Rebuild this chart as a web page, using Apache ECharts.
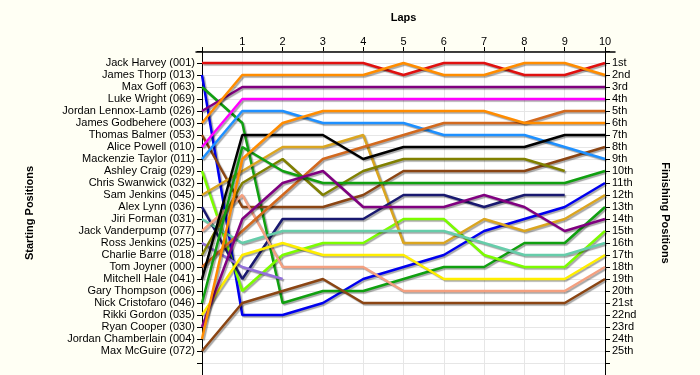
<!DOCTYPE html>
<html><head><meta charset="utf-8">
<script src="https://cdn.jsdelivr.net/npm/echarts@6/dist/echarts.min.js"></script>
<style>html,body{margin:0;padding:0;background:#fffff4;}#c{width:700px;height:375px;}</style>
</head><body><div id="c"></div>
<script>
const lapNumbers = [0,1,2,3,4,5,6,7,8,9,10];
const startingNames = ["Jack Harvey (001)","James Thorp (013)","Max Goff (063)","Luke Wright (069)","Jordan Lennox-Lamb (026)","James Godbehere (003)","Thomas Balmer (053)","Alice Powell (010)","Mackenzie Taylor (011)","Ashley Craig (029)","Chris Swanwick (032)","Sam Jenkins (045)","Alex Lynn (036)","Jiri Forman (031)","Jack Vanderpump (077)","Ross Jenkins (025)","Charlie Barre (018)","Tom Joyner (000)","Mitchell Hale (041)","Gary Thompson (006)","Nick Cristofaro (046)","Rikki Gordon (035)","Ryan Cooper (030)","Jordan Chamberlain (004)","Max McGuire (072)"];
const finishingLabels = ["1st","2nd","3rd","4th","5th","6th","7th","8th","9th","10th","11th","12th","13th","14th","15th","16th","17th","18th","19th","20th","21st","22nd","23rd","24th","25th"];

// positions per lap (lap 0 = grid); null = retired
const harvey      = [1,1,1,1,1,2,1,1,2,2,1];
const thorp       = [2,22,22,21,19,18,17,15,14,13,11];
const goff        = [3,6,21,20,20,19,18,18,16,16,13];
const lennoxLamb  = [5,3,3,3,3,3,3,3,3,3,3];
const godbehere   = [6,2,2,2,2,1,2,2,1,1,2];
const balmer      = [7,13,13,13,12,10,10,10,10,9,8];
const powell      = [8,4,4,4,4,4,4,4,4,4,4];
const taylor      = [9,5,5,6,6,6,7,7,7,8,9];
const craig       = [10,20,17,16,16,14,14,17,18,18,15];
const samJenkins  = [12,10,8,8,7,16,16,14,15,14,12];
const lynn        = [13,19,14,14,14,12,12,13,12,12,null];
const forman      = [14,16,15,15,15,15,15,16,17,17,16];
const vanderpump  = [15,12,18,18,18,20,20,20,20,20,18];
const rossJenkins = [16,18,19,null,null,null,null,null,null,null,null];
const barre       = [17,11,9,12,10,9,9,9,9,10,null];
const joyner      = [18,15,12,9,8,7,6,6,6,5,5];
const hale        = [19,7,7,7,9,8,8,8,8,7,7];
const cristofaro  = [21,8,10,11,11,11,11,11,11,11,10];
const gordon      = [22,17,16,17,17,17,19,19,19,19,17];
const cooper      = [23,14,11,10,13,13,13,12,13,15,14];
const chamberlain = [24,9,6,5,5,5,5,5,6,6,6];
const mcguire     = [25,21,20,19,21,21,21,21,21,21,19];

const driverSeries = [
  ["Jack Harvey", harvey, "#e01010"],
  ["James Thorp", thorp, "#0000ee"],
  ["Max Goff", goff, "#10a010"],
  ["Jordan Lennox-Lamb", lennoxLamb, "#800080"],
  ["James Godbehere", godbehere, "#ff8c00"],
  ["Thomas Balmer", balmer, "#8b4513"],
  ["Alice Powell", powell, "#ff00ff"],
  ["Mackenzie Taylor", taylor, "#1e90ff"],
  ["Ashley Craig", craig, "#7cfc00"],
  ["Sam Jenkins", samJenkins, "#daa520"],
  ["Alex Lynn", lynn, "#191970"],
  ["Jiri Forman", forman, "#66cdaa"],
  ["Jack Vanderpump", vanderpump, "#f4a080"],
  ["Ross Jenkins", rossJenkins, "#9370db"],
  ["Charlie Barre", barre, "#808000"],
  ["Tom Joyner", joyner, "#d2691e"],
  ["Mitchell Hale", hale, "#000000"],
  ["Nick Cristofaro", cristofaro, "#10a010"],
  ["Rikki Gordon", gordon, "#ffee00"],
  ["Ryan Cooper", cooper, "#800080"],
  ["Jordan Chamberlain", chamberlain, "#ff8c00"],
  ["Max McGuire", mcguire, "#8b4513"]
];

const chart = echarts.init(document.getElementById('c'), null, {renderer:'canvas'});
const font = "Liberation Sans, Arial, sans-serif";
const yCommon = {
  type:'value', inverse:true, min:0, max:27, interval:1,
  axisLine:{show:true, lineStyle:{color:'#000', width:1}},
  axisTick:{show:true, length:5, lineStyle:{color:'#000'}},
  splitLine:{show:true, lineStyle:{color:'#e6e6e6', width:1}},
  nameLocation:'middle',
  nameTextStyle:{fontFamily:font, fontWeight:'bold', fontSize:11, color:'#000'}
};
chart.setOption({
  backgroundColor:'#fffff4',
  animation:false,
  grid:[
    {left:202, width:403, top:51, height:325, show:true, backgroundColor:'#ffffff', borderWidth:0},
    {left:196, width:419, top:51, height:1, show:false}
  ],
  xAxis:[
    {type:'value', gridIndex:0, position:'top', min:0, max:10, interval:1,
     name:'Laps', nameLocation:'middle', nameGap:28,
     nameTextStyle:{fontFamily:font, fontWeight:'bold', fontSize:11, color:'#000'},
     axisLine:{show:false},
     axisTick:{show:true, length:4, lineStyle:{color:'#000'}},
     axisLabel:{fontFamily:font, fontSize:11, color:'#000', margin:4, formatter:v=> v===0?'':String(v)},
     splitLine:{show:true, lineStyle:{color:'#e6e6e6', width:1}}},
    {type:'value', gridIndex:1, position:'top', min:0, max:1,
     axisLine:{show:true, lineStyle:{color:'#000', width:1.5}}, axisTick:{show:false}, axisLabel:{show:false}, splitLine:{show:false}}
  ],
  yAxis:[
    Object.assign({}, yCommon, {gridIndex:0, position:'left', name:'Starting Positions', nameGap:167, nameRotate:90,
      axisLabel:{fontFamily:font, fontSize:11, color:'#000', margin:7,
        formatter:v=> (v>=1 && v<=25) ? startingNames[v-1] : ''}}),
    Object.assign({}, yCommon, {gridIndex:0, position:'right', name:'Finishing Positions', nameGap:55, nameRotate:-90,
      splitLine:{show:false},
      axisLabel:{fontFamily:font, fontSize:11, color:'#000', margin:7,
        formatter:v=> (v>=1 && v<=25) ? finishingLabels[v-1] : ''}}),
    {type:'value', gridIndex:1, show:false}
  ],
  series: driverSeries.map(([name, data, color]) => ({
    type:'line', name, xAxisIndex:0, yAxisIndex:0,
    data: data.map((p,i)=> [lapNumbers[i], p]),
    showSymbol:false, symbol:'none', connectNulls:false,
    lineStyle:{color, width:2.5, shadowColor:'rgba(0,0,0,0.35)', shadowOffsetX:1.5, shadowOffsetY:1.5, shadowBlur:1},
    z:2
  }))
});
</script>
</body></html>
